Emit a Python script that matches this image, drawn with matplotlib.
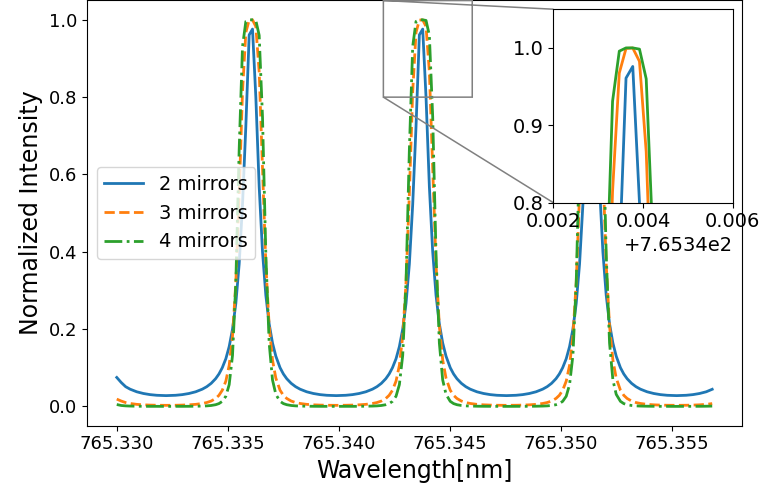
import matplotlib
matplotlib.use("Agg")
import matplotlib.pyplot as plt

plt.rcParams['font.family'] = ['DejaVu Sans']

wavelength = [
    # left edge to first peak
    765.33000, 765.33020, 765.33040, 765.33060, 765.33090, 765.33120, 765.33150, 765.33180,
    765.33222,
    765.33265, 765.33295, 765.33325, 765.33355, 765.33385, 765.33405, 765.33425, 765.33445,
    765.33460, 765.33475,
    # peak 1
    765.33491, 765.33506, 765.33521, 765.33536, 765.33551, 765.33566, 765.33581, 765.33596,
    765.33611, 765.33626, 765.33641, 765.33656, 765.33671, 765.33686, 765.33701, 765.33716,
    # between 1 and 2
    765.33735, 765.33750, 765.33765, 765.33785, 765.33805, 765.33825, 765.33855, 765.33885,
    765.33915, 765.33945, 765.33988,
    765.34031, 765.34061, 765.34091, 765.34121, 765.34151, 765.34171, 765.34191, 765.34211,
    765.34226, 765.34241,
    # peak 2
    765.34257, 765.34272, 765.34287, 765.34302, 765.34317, 765.34332, 765.34347, 765.34362,
    765.34377, 765.34392, 765.34407, 765.34422, 765.34437, 765.34452, 765.34467, 765.34482,
    # between 2 and 3
    765.34501, 765.34516, 765.34531, 765.34551, 765.34571, 765.34591, 765.34621, 765.34651,
    765.34681, 765.34711, 765.34754,
    765.34797, 765.34827, 765.34857, 765.34887, 765.34917, 765.34937, 765.34957, 765.34977,
    765.34992, 765.35007,
    # peak 3
    765.35023, 765.35038, 765.35053, 765.35068, 765.35083, 765.35098, 765.35113, 765.35128,
    765.35143, 765.35158, 765.35173, 765.35188, 765.35203, 765.35218, 765.35233, 765.35248,
    # right edge
    765.35267, 765.35282, 765.35297, 765.35317, 765.35337, 765.35357, 765.35387, 765.35417,
    765.35447, 765.35477, 765.35520,
    765.35563, 765.35593, 765.35623, 765.35653, 765.35680,
]

two_mirrors = [
    0.075, 0.062, 0.0511, 0.0447, 0.0379, 0.0335, 0.0306, 0.0289,
    0.028,
    0.0289, 0.0306, 0.0335, 0.0379, 0.0447, 0.0511, 0.0598, 0.0718,
    0.084, 0.1002,
    0.1234, 0.1548, 0.1998, 0.2668, 0.3686, 0.5224, 0.725, 0.961,
    0.976, 0.800, 0.5686, 0.400, 0.2875, 0.2135, 0.164, 0.130,
    0.1002, 0.084, 0.0718, 0.0598, 0.0511, 0.0447, 0.0379, 0.0335,
    0.0306, 0.0289, 0.028,
    0.0289, 0.0306, 0.0335, 0.0379, 0.0447, 0.0511, 0.0598, 0.0718,
    0.084, 0.1002,
    0.1234, 0.1548, 0.1998, 0.2668, 0.3686, 0.5224, 0.725, 0.961,
    0.976, 0.800, 0.5686, 0.400, 0.2875, 0.2135, 0.164, 0.130,
    0.1002, 0.084, 0.0718, 0.0598, 0.0511, 0.0447, 0.0379, 0.0335,
    0.0306, 0.0289, 0.028,
    0.0289, 0.0306, 0.0335, 0.0379, 0.0447, 0.0511, 0.0598, 0.0718,
    0.084, 0.1002,
    0.1234, 0.1548, 0.1998, 0.2668, 0.3686, 0.5224, 0.725, 0.961,
    0.976, 0.800, 0.5686, 0.400, 0.2875, 0.2135, 0.164, 0.130,
    0.1002, 0.084, 0.0718, 0.0598, 0.0511, 0.0447, 0.0379, 0.0335,
    0.0306, 0.0289, 0.028,
    0.0289, 0.0306, 0.0335, 0.0379, 0.0444,
]

three_mirrors = [
    0.019, 0.0140, 0.0101, 0.0077, 0.0054, 0.0042, 0.0035, 0.0031,
    0.0029,
    0.0031, 0.0035, 0.0042, 0.0054, 0.0077, 0.0101, 0.0140, 0.0207,
    0.0288, 0.0419,
    0.0655, 0.1062, 0.1812, 0.3211, 0.551, 0.8148, 0.9675, 0.9993,
    0.9999, 0.9826, 0.8658, 0.617, 0.368, 0.2076, 0.1201, 0.0732,
    0.0419, 0.0288, 0.0207, 0.0140, 0.0101, 0.0077, 0.0054, 0.0042,
    0.0035, 0.0031, 0.0029,
    0.0031, 0.0035, 0.0042, 0.0054, 0.0077, 0.0101, 0.0140, 0.0207,
    0.0288, 0.0419,
    0.0655, 0.1062, 0.1812, 0.3211, 0.551, 0.8148, 0.9675, 0.9993,
    0.9999, 0.9826, 0.8658, 0.617, 0.368, 0.2076, 0.1201, 0.0732,
    0.0419, 0.0288, 0.0207, 0.0140, 0.0101, 0.0077, 0.0054, 0.0042,
    0.0035, 0.0031, 0.0029,
    0.0031, 0.0035, 0.0042, 0.0054, 0.0077, 0.0101, 0.0140, 0.0207,
    0.0288, 0.0419,
    0.0655, 0.1062, 0.1812, 0.3211, 0.551, 0.8148, 0.9675, 0.9993,
    0.9999, 0.9826, 0.8658, 0.617, 0.368, 0.2076, 0.1201, 0.0732,
    0.0419, 0.0288, 0.0207, 0.0140, 0.0101, 0.0077, 0.0054, 0.0042,
    0.0035, 0.0031, 0.0029,
    0.0031, 0.0035, 0.0042, 0.0054, 0.0074,
]

four_mirrors = [
    0.005, 0.0025, 0.0015, 0.0010, 0.0006, 0.0004, 0.0003, 0.0003,
    0.0002,
    0.0003, 0.0003, 0.0004, 0.0006, 0.0010, 0.0015, 0.0025, 0.0045,
    0.0074, 0.0132,
    0.0264, 0.0564, 0.1319, 0.3218, 0.6648, 0.931, 0.9958, 1.0,
    1.0, 0.9984, 0.960, 0.7489, 0.3932, 0.1637, 0.0686, 0.0313,
    0.0132, 0.0074, 0.0045, 0.0025, 0.0015, 0.0010, 0.0006, 0.0004,
    0.0003, 0.0003, 0.0002,
    0.0003, 0.0003, 0.0004, 0.0006, 0.0010, 0.0015, 0.0025, 0.0045,
    0.0074, 0.0132,
    0.0264, 0.0564, 0.1319, 0.3218, 0.6648, 0.931, 0.9958, 1.0,
    1.0, 0.9984, 0.960, 0.7489, 0.3932, 0.1637, 0.0686, 0.0313,
    0.0132, 0.0074, 0.0045, 0.0025, 0.0015, 0.0010, 0.0006, 0.0004,
    0.0003, 0.0003, 0.0002,
    0.0003, 0.0003, 0.0004, 0.0006, 0.0010, 0.0015, 0.0025, 0.0045,
    0.0074, 0.0132,
    0.0264, 0.0564, 0.1319, 0.3218, 0.6648, 0.931, 0.9958, 1.0,
    1.0, 0.9984, 0.960, 0.7489, 0.3932, 0.1637, 0.0686, 0.0313,
    0.0132, 0.0074, 0.0045, 0.0025, 0.0015, 0.0010, 0.0006, 0.0004,
    0.0003, 0.0003, 0.0002,
    0.0003, 0.0003, 0.0004, 0.0006, 0.0009,
]

labels = ["2 mirrors", "3 mirrors", "4 mirrors"]
x_ticks = [765.330, 765.335, 765.340, 765.345, 765.350, 765.355]
y_ticks = [0.0, 0.2, 0.4, 0.6, 0.8, 1.0]
inset_x_ticks = [765.342, 765.344, 765.346]
inset_y_ticks = [0.8, 0.9, 1.0]

series = [two_mirrors, three_mirrors, four_mirrors]
colors = ["#1f77b4", "#ff7f0e", "#2ca02c"]
styles = ["-", "--", "-."]

fig = plt.figure(figsize=(7.61, 4.95), dpi=100)
ax = fig.add_axes([0.1143, 0.14, 0.8607, 0.859])

for ys, c, ls, lab in zip(series, colors, styles, labels):
    ax.plot(wavelength, ys, color=c, linestyle=ls, linewidth=2.0, label=lab)

ax.set_xticks(x_ticks)
ax.set_yticks(y_ticks)
ax.ticklabel_format(axis='x', useOffset=False)
ax.tick_params(labelsize=13)
ax.set_xlabel("Wavelength[nm]", fontsize=17)
ax.set_ylabel("Normalized Intensity", fontsize=17)
ax.legend(loc="center left", fontsize=14)

axins = ax.inset_axes([0.712, 0.5245, 0.274, 0.455])
for ys, c in zip(series, colors):
    axins.plot(wavelength, ys, color=c, linestyle="-", linewidth=2.0)
axins.set_xlim(765.342, 765.346)
axins.set_ylim(0.8, 1.05)
axins.set_xticks(inset_x_ticks)
axins.set_yticks(inset_y_ticks)
axins.tick_params(labelsize=14)
axins.xaxis.get_offset_text().set_fontsize(14)

ind = ax.indicate_inset_zoom(axins, edgecolor="0.5", alpha=1.0, linewidth=1.1)
try:
    conns = ind.connectors
except AttributeError:
    conns = ind[1]
for c, vis in zip(conns, [True, True, False, False]):
    c.set_visible(vis)

fig.savefig("out.png", dpi=100)
